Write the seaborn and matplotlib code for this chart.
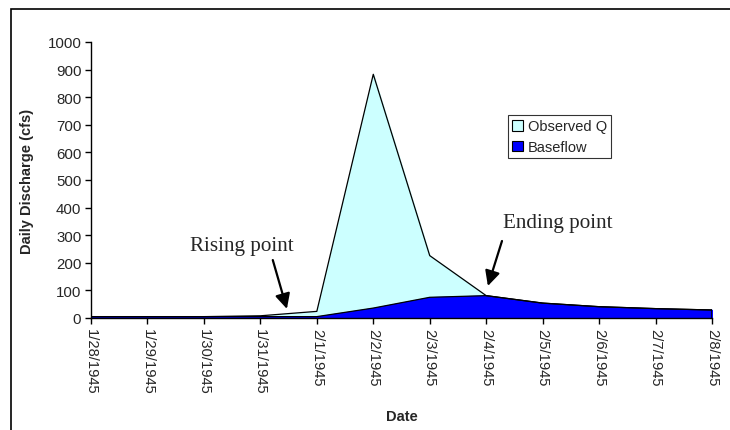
import matplotlib
matplotlib.use("Agg")
import matplotlib.pyplot as plt
import seaborn as sns
import pandas as pd
from matplotlib.patches import Rectangle, Patch

dates = ["1/28/1945", "1/29/1945", "1/30/1945", "1/31/1945", "2/1/1945", "2/2/1945",
         "2/3/1945", "2/4/1945", "2/5/1945", "2/6/1945", "2/7/1945", "2/8/1945"]
observed_q = [5, 5, 5, 8, 24, 883, 226, 81, 54, 41, 34, 29]
baseflow = [5, 5, 5, 5, 5, 36, 75, 81, 54, 41, 34, 29]
y_ticks = [0, 100, 200, 300, 400, 500, 600, 700, 800, 900, 1000]

df = pd.DataFrame({"idx": range(len(dates)), "date": dates,
                   "Observed Q": observed_q, "Baseflow": baseflow})

sns.set_style("white")
plt.rcParams["font.family"] = ["Liberation Sans", "DejaVu Sans"]

fig = plt.figure(figsize=(7.3, 4.31), dpi=100)
ax = fig.add_axes([91 / 730, 1 - 319 / 431, (712 - 91) / 730, (319 - 43) / 431])

# outer frame
fig.patches.append(Rectangle((11 / 730, -0.1), 1.0, 1 - 10 / 431 + 0.1,
                             transform=fig.transFigure, fill=False,
                             edgecolor="black", linewidth=1.2))

ax.fill_between(df["idx"], 0, df["Observed Q"], color="#CCFFFF", zorder=1)
ax.fill_between(df["idx"], 0, df["Baseflow"], color="#0000FF", zorder=2)
sns.lineplot(data=df, x="idx", y="Observed Q", color="black", linewidth=0.9, ax=ax, zorder=3)
sns.lineplot(data=df, x="idx", y="Baseflow", color="black", linewidth=0.9, ax=ax, zorder=3)
ax.plot([df["idx"].iloc[-1]] * 2, [0, df["Baseflow"].iloc[-1]], color="black", linewidth=1.2, zorder=3)

ax.set_xlim(0, len(dates) - 1)
ax.set_ylim(0, 1000)
ax.set_yticks(y_ticks)
ax.set_yticklabels([str(v) for v in y_ticks], fontsize=10.8)
ax.set_xticks(df["idx"])
ax.set_xticklabels(dates, rotation=270, fontsize=10.6)
ax.tick_params(axis="both", direction="out", length=4, width=1, color="black", left=True, bottom=True, pad=3)

for s in ["top", "right"]:
    ax.spines[s].set_visible(False)
for s in ["left", "bottom"]:
    ax.spines[s].set_color("black")
    ax.spines[s].set_linewidth(1)

ax.set_xlabel("Date", fontsize=10.5, fontweight="bold", labelpad=11)
ax.set_ylabel("Daily Discharge (cfs)", fontsize=10.5, fontweight="bold", labelpad=10)

leg_handles = [Patch(facecolor="#CCFFFF", edgecolor="black", linewidth=0.8),
               Patch(facecolor="#0000FF", edgecolor="black", linewidth=0.8)]
leg = ax.legend(leg_handles, ["Observed Q", "Baseflow"], loc="upper left",
                bbox_to_anchor=((508 - 91) / 621, (319 - 116) / 276), fontsize=10.5,
                frameon=True, fancybox=False, edgecolor="black", handlelength=0.75,
                handleheight=0.75, handletextpad=0.3, borderpad=0.3, labelspacing=0.45,
                borderaxespad=0)
leg.get_frame().set_linewidth(0.8)

arrow = dict(arrowstyle="-|>,head_length=0.9,head_width=0.45", color="black", lw=1.6,
             shrinkA=0, shrinkB=0)
ax.text(2.67, 230, "Rising point", fontsize=15.2, family="Liberation Serif", ha="center", va="bottom")
ax.annotate("", xy=(3.47, 33), xytext=(3.22, 210), arrowprops=arrow)
ax.text(8.27, 313, "Ending point", fontsize=15.2, family="Liberation Serif", ha="center", va="bottom")
ax.annotate("", xy=(7.03, 116), xytext=(7.28, 279), arrowprops=arrow)

fig.savefig("out.png", dpi=100)
